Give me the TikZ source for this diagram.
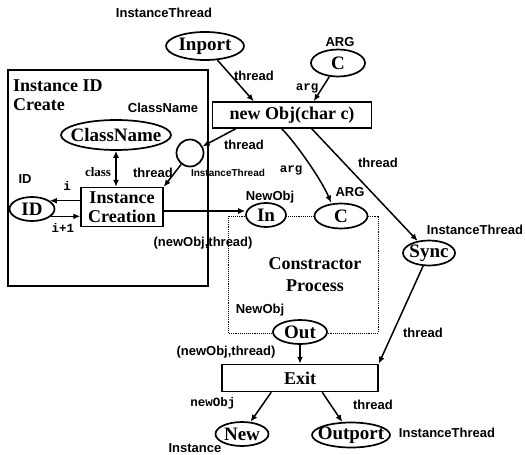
\documentclass[tikz,border=0pt]{standalone}
\usepackage{fontspec}
\setmainfont{Liberation Serif}
\setsansfont{Liberation Sans}
\setmonofont{Liberation Mono}
\usetikzlibrary{shapes.geometric,arrows.meta}

\tikzset{
  place/.style={ellipse, draw, fill=white, line width=1.7pt, inner sep=0pt,
    label={[font=\fontsize{19}{19}\selectfont\bfseries]center:#1}},
  trans/.style={rectangle, draw, fill=white, line width=1.5pt, inner sep=0pt,
    align=center, font=\fontsize{18}{18.5}\selectfont\bfseries},
  arc/.style={-{Latex[length=7pt,width=6pt]}, line width=1.5pt},
  lab/.style={font=\fontsize{13}{14}\sffamily\bfseries, inner sep=0pt},
  smalllab/.style={font=\fontsize{10}{11}\sffamily\bfseries, inner sep=0pt},
  mlab/.style={font=\fontsize{12.5}{13}\ttfamily\bfseries, inner sep=0pt},
  slab/.style={font=\fontsize{13}{14}\selectfont\bfseries, inner sep=0pt},
}

\begin{document}
\begin{tikzpicture}[x=1pt,y=-1pt]
\useasboundingbox (0,0) rectangle (525,455);

% module frame for instance ID creation
\node[draw, line width=1.3pt, minimum width=200pt, minimum height=216pt, inner sep=0pt] (idbox) at (108,178) {};
\node[anchor=north west, align=left, inner sep=0pt, font=\fontsize{18}{19}\selectfont\bfseries] (idtitle) at (13,80) {Instance ID\\Create};

% constructor sub-process (dotted frame, drawn under the places)
\draw[densely dotted, line width=0.9pt] (228,216) rectangle (378,333);
\node[align=center, font=\fontsize{18}{22}\selectfont\bfseries, inner sep=0pt] (cproc) at (315,275) {Constractor\\Process};

% places
\node[place=Inport, minimum width=78pt, minimum height=28pt] (inport) at (205,46) {};
\node[place=C, minimum width=54pt, minimum height=27pt] (argtop) at (338,63) {};
\node[place=ClassName, minimum width=110pt, minimum height=30pt] (cn) at (116,135) {};
\node[circle, draw, fill=white, line width=1.7pt, minimum size=27pt, inner sep=0pt] (circ) at (190,153) {};
\node[place=ID, minimum width=45pt, minimum height=24pt] (id) at (32,209) {};
\node[place=In, minimum width=40pt, minimum height=24pt] (in) at (266,215) {};
\node[place=C, minimum width=53pt, minimum height=25pt] (cmid) at (341,216) {};
\node[place=Sync, minimum width=52pt, minimum height=25pt] (sync) at (429,253) {};
\node[place=Out, minimum width=54pt, minimum height=24pt] (out) at (300,332) {};
\node[place=New, minimum width=53pt, minimum height=24pt] (new) at (242,434) {};
\node[place=Outport, minimum width=78pt, minimum height=25pt] (outport) at (351,435) {};

% transitions
\node[trans, minimum width=159pt, minimum height=26pt] (nobj) at (292,115) {new Obj(char c)};
\node[trans, minimum width=82pt, minimum height=39pt] (ic) at (122,207) {Instance\\Creation};
\node[trans, minimum width=156pt, minimum height=27pt] (exit) at (300,378) {Exit};

% arcs
\draw[arc] (inport) -- ([xshift=42pt]nobj.north west);
\draw[arc] (argtop) -- ([xshift=102pt]nobj.north west);
\draw[arc] ([xshift=24pt]nobj.south west) -- (circ);
\draw[arc] (circ) -- (ic.north east);
\draw[{Latex[length=7pt,width=6pt]}-{Latex[length=7pt,width=6pt]}, line width=1.5pt] (cn.south) -- (cn.south |- ic.north);
\draw[arc] (ic.west |- id.25) -- (id.25);
\draw[arc] (id.-21) -- (ic.west |- id.-21);
\draw[arc] (ic.east |- 0,211) -- (in.west |- 0,211);
\draw[arc] ([xshift=70pt]nobj.south west) .. controls +(14,14) and +(-9,-22) .. ([xshift=-10pt]cmid.north);
\draw[arc] ([xshift=100pt]nobj.south west) -- (sync);
\draw[arc] (sync) -- (exit.north east);
\draw[arc] (out) -- (out |- exit.north);
\draw[arc] ([xshift=50pt]exit.south west) -- (new);
\draw[arc] ([xshift=101pt]exit.south west) -- (outport);

% inscriptions and place types
\node[lab] (tInport) at (164,13) {InstanceThread};
\node[lab] (aInport) at (254,76) {thread};
\node[lab] (tArgTop) at (340,42) {ARG};
\node[mlab] (aArgTop) at (307,88) {arg};
\node[lab] (tCn) at (163,108) {ClassName};
\node[lab] (aCirc) at (244,145) {thread};
\node[lab] (aIc) at (153,173) {thread};
\node[smalllab] (tCirc) at (228,173) {InstanceThread};
\node[slab] (aClass) at (98,172) {class};
\node[lab] (tId) at (25,179) {ID};
\node[mlab] (aI) at (67,186) {i};
\node[mlab] (aI1) at (63,228) {i+1};
\node[lab] (tIn) at (270,197) {NewObj};
\node[lab] (aIn) at (203,243) {(newObj,thread)};
\node[lab] (tCmid) at (350,192) {ARG};
\node[mlab] (aCmid) at (291,170) {arg};
\node[lab] (aSync) at (378,163) {thread};
\node[lab] (tSync) at (475,230) {InstanceThread};
\node[lab] (tOut) at (260,310) {NewObj};
\node[lab] (aOut) at (226,352) {(newObj,thread)};
\node[lab] (aExit) at (423,333) {thread};
\node[mlab] (aNew) at (213,403) {newObj};
\node[lab] (tNew) at (195,448) {Instance};
\node[lab] (aOutport) at (373,405) {thread};
\node[lab] (tOutport) at (447,433) {InstanceThread};
\end{tikzpicture}
\end{document}
